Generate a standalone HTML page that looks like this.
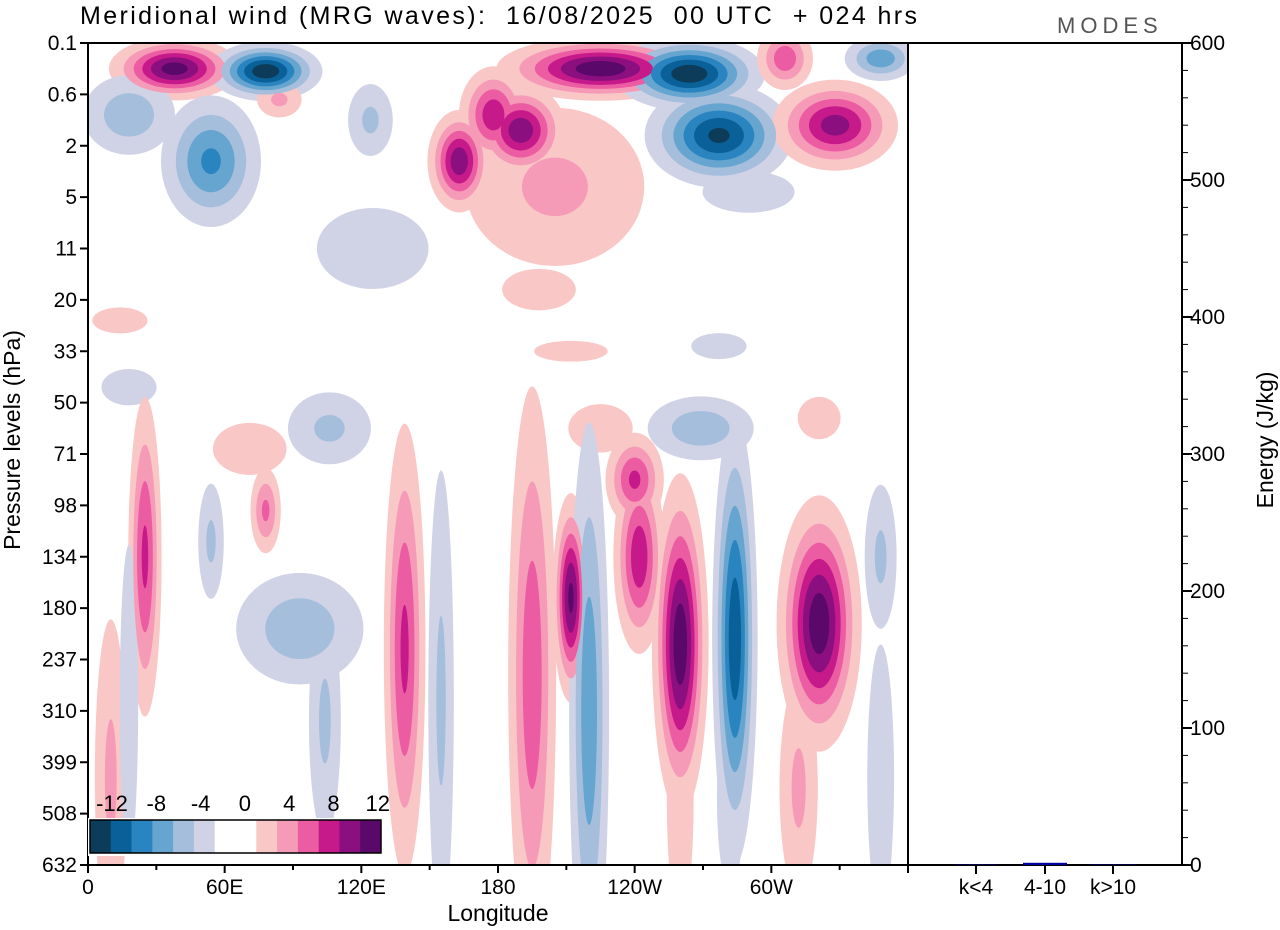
<!DOCTYPE html>
<html><head><meta charset="utf-8"><style>
html,body{margin:0;background:#fff;width:1280px;height:930px;overflow:hidden}
svg{display:block;overflow:hidden}
svg text{font-family:"Liberation Sans",Arial,sans-serif;fill:#000;white-space:pre}
</style></head><body>
<svg id="chart" width="1280" height="930" xmlns="http://www.w3.org/2000/svg">
<defs><clipPath id="pc"><rect x="88" y="43" width="820" height="822"/></clipPath></defs>
<text x="80" y="24" font-size="25" textLength="837" lengthAdjust="spacing" xml:space="preserve">Meridional wind (MRG waves):  16/08/2025  00 UTC  + 024 hrs</text>
<text x="1057" y="33" font-size="22" letter-spacing="5" style="fill:#555">MODES</text>
<g id="field" clip-path="url(#pc)"></g>
<g id="axes"></g>
</svg>
<script>
const levels=["0.1","0.6","2","5","11","20","33","50","71","98","134","180","237","310","399","508","632"];
const lonLabels=["0","60E","120E","180","120W","60W"];
const lonTicks=[0,60,120,180,240,300];
const energyTicks=[0,100,200,300,400,500,600];
const bandCats=["k<4","4-10","k>10"];
const bandEnergy=[0.3,1.6,0.3];
const cbarLabels=["-12","-8","-4","0","4","8","12"];
const thresholds=[1.5,3.5,5.5,7.5,9.5,11.5];
const posColors=["#f9c7c6","#f59bb7","#ec5ca2","#c61a8a","#8b0f7f","#5a0869"];
const negColors=["#d0d2e6","#a5bedc","#66a5cf","#2a84c0","#0a6199","#0d3c5a"];
// blobs: [lon, levelIndex, amplitude, sigmaLon, sigmaLevel]
const blobLon=[38,78,225,190,163,205,264,277,328,306,348,54,18,84,124,125,290,198,14,212,277,18,71,106,225,240,269,321,25,10,78,54,93,104,18,139,155,195,212,220,260,242,284,321,348,348,312,260,282,178];
const blobLev=[0.5,0.55,0.5,1.7,2.3,2.8,0.6,1.8,1.6,0.3,0.3,2.3,1.4,1.1,1.5,4,2.9,4.8,5.4,6,5.9,6.7,7.9,7.5,7.5,8.5,7.5,7.3,10,14.3,9.1,9.7,11.4,13.2,12.8,11.8,12.8,12.3,10.8,13,11.7,10,11.6,11.3,10,14.3,14.5,14.7,14.7,1.4];
const blobAmp=[12.5,-13,13,11,11,4,-13,-12,10.5,7,-7,-8,-5,4,-4,-2.2,-2.5,2.5,2.5,2.5,-2.5,-2.5,2.5,-4,3,8,-5,3,8,4,6,-4,-5,-4,-2.5,8,-4,7,12,-7,13,9,-11,13,-4,-3,4,3,-3,9];
const blobSx=[14,12,22,10,7,28,16,16,14,7,9,12,13,7,7,28,20,16,12,16,12,12,16,13,12,7,15,8,4,5,4,4,18,5,4,5,4,6,4,5,6,6,5,9,5,5,6,5,5,8];
const blobSy=[0.3,0.28,0.3,0.45,0.5,1.1,0.35,0.5,0.45,0.35,0.25,0.7,0.5,0.25,0.5,0.9,0.4,0.4,0.25,0.2,0.25,0.35,0.5,0.5,0.4,0.5,0.4,0.35,1.7,2.2,0.5,0.8,0.7,1.6,3,2.4,3.2,3.2,1,3.2,1.6,1,2.2,1.2,1,2.2,1.5,2,1.5,0.5];
const X0=88,X1=908,Y0=43,Y1=865;
const xLon=l=>X0+l*(X1-X0)/360;
const yLev=i=>Y0+i*(Y1-Y0)/16;
const yE=e=>Y1-e*(Y1-Y0)/600;
const NS="http://www.w3.org/2000/svg";
function mk(t,a,p){const e=document.createElementNS(NS,t);for(const k in a)e.setAttribute(k,a[k]);(p||document.getElementById('chart')).appendChild(e);return e;}
const field=document.getElementById('field');
for(let k=0;k<thresholds.length;k++){
 for(let b=0;b<blobLon.length;b++){
  const a=Math.abs(blobAmp[b]);if(a<=thresholds[k])continue;
  const r=Math.sqrt(2*Math.log(a/thresholds[k]));
  const e=mk('ellipse',{cx:xLon(blobLon[b]),cy:yLev(blobLev[b]),rx:r*blobSx[b]*(X1-X0)/360,ry:r*blobSy[b]*(Y1-Y0)/16,fill:blobAmp[b]>0?posColors[k]:negColors[k]},field);
  
  
 }
}
const ax=document.getElementById('axes');
let f=mk('rect',{x:X0,y:Y0,width:X1-X0,height:Y1-Y0,fill:'none',stroke:'#000','stroke-width':2},ax);

mk('rect',{x:X1,y:Y0,width:1182-X1,height:Y1-Y0,fill:'none',stroke:'#000','stroke-width':2},ax);
levels.forEach((l,i)=>{const y=yLev(i);mk('line',{x1:80,x2:X0,y1:y,y2:y,stroke:'#000','stroke-width':2},ax);
 const t=mk('text',{x:77,y:y+7,'font-size':21,'text-anchor':'end'},ax);t.textContent=l;
 });
for(let l=0;l<=360;l+=30){const x=xLon(l);mk('line',{x1:x,x2:x,y1:Y1,y2:Y1+(l%60==0?8:5),stroke:'#000','stroke-width':2},ax);}
lonTicks.forEach((l,i)=>{const t=mk('text',{x:xLon(l),y:894,'font-size':21,'text-anchor':'middle'},ax);t.textContent=lonLabels[i];
 });
let t=mk('text',{x:498,y:921,'font-size':23,'text-anchor':'middle'},ax);t.textContent='Longitude';

t=mk('text',{x:0,y:0,'font-size':23,'text-anchor':'middle',transform:'translate(20,440) rotate(-90)'},ax);t.textContent='Pressure levels (hPa)';

for(let e=0;e<=600;e+=20){const y=yE(e);mk('line',{x1:1182,x2:1182+(e%100==0?10:6),y1:y,y2:y,stroke:'#000','stroke-width':e%100==0?2:1},ax);}
energyTicks.forEach(e=>{const t=mk('text',{x:1190,y:yE(e)+7,'font-size':21},ax);t.textContent=e;
 });
t=mk('text',{x:0,y:0,'font-size':23,'text-anchor':'middle',transform:'translate(1273,440) rotate(-90)'},ax);t.textContent='Energy (J/kg)';

const bx=[976,1045,1113];
bandCats.forEach((c,i)=>{mk('line',{x1:bx[i],x2:bx[i],y1:Y1,y2:Y1+9,stroke:'#000','stroke-width':2},ax);
 const r=mk('rect',{x:bx[i]-22,y:yE(bandEnergy[i]),width:44,height:Y1-yE(bandEnergy[i]),fill:'#0000a0'},ax);
 
 const t=mk('text',{x:bx[i],y:894,'font-size':21,'text-anchor':'middle'},ax);t.textContent=c;
 });
// colorbar
const cbCols=[...negColors.slice().reverse(),"#ffffff","#ffffff",...posColors];
const cw=291/cbCols.length;
const cb=mk('g',{},ax);
mk('rect',{x:88,y:818,width:296,height:38,fill:'#fff'},cb);
cbCols.forEach((c,i)=>mk('rect',{x:90+i*cw,y:820,width:cw+0.3,height:33,fill:c},cb));
mk('rect',{x:90,y:820,width:291,height:33,fill:'none',stroke:'#000','stroke-width':1.5},cb);
cbarLabels.forEach((l,i)=>{const t=mk('text',{x:112+i*44.3,y:811,'font-size':22,'text-anchor':'middle'},cb);t.textContent=l;
 });
</script>
</body></html>
